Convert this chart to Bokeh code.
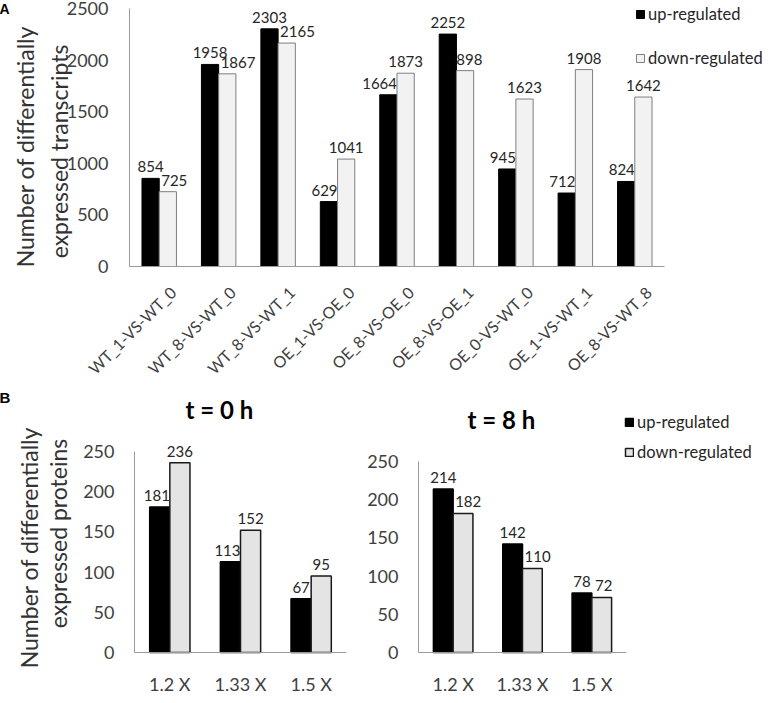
import math
from bokeh.plotting import figure
from bokeh.models import (ColumnDataSource, Range1d, Legend, LegendItem, Label,
                          FixedTicker)
from bokeh.transform import dodge
from bokeh.layouts import column, row
from bokeh.core.properties import value
from bokeh.embed import file_html
from bokeh.resources import INLINE

# ---------------- data ----------------
comparisons = ["WT_1-VS-WT_0", "WT_8-VS-WT_0", "WT_8-VS-WT_1", "OE_1-VS-OE_0",
               "OE_8-VS-OE_0", "OE_8-VS-OE_1", "OE_0-VS-WT_0", "OE_1-VS-WT_1",
               "OE_8-VS-WT_8"]
transcripts_up = [854, 1958, 2303, 629, 1664, 2252, 945, 712, 824]
transcripts_down = [725, 1867, 2165, 1041, 1873, 1898, 1623, 1908, 1642]

fold_changes = ["1.2 X", "1.33 X", "1.5 X"]
proteins_up_0h = [181, 113, 67]
proteins_down_0h = [236, 152, 95]
proteins_up_8h = [214, 142, 78]
proteins_down_8h = [182, 110, 72]

series_names = ["up-regulated", "down-regulated"]
transcript_ticks = [0, 500, 1000, 1500, 2000, 2500]
protein_ticks = [0, 50, 100, 150, 200, 250]

FONT = "Lato"
TXT = "#404040"
AXIS = "#9a9a9a"
DIGIT_EM = 0.58   # approximate width of a Lato digit, in em


def bar_panel(cats, up, down, ticks, width, height, ax_left, ax_right, ax_top, ax_bottom,
              bar_w, down_fill, down_line, bar_lw, label_px, tick_size,
              xlabel_size, tick_standoff, xlabel_standoff, close_px=30):
    """The frame fills the whole canvas; the drawn axes span ax_left..ax_right
    horizontally and ax_bottom (value 0) .. ax_top (last tick) vertically (px)."""
    n = len(cats)
    ymax = ticks[-1]
    px_per_unit = (ax_bottom - ax_top) / ymax
    cat_w = (ax_right - ax_left) / n
    x_start = -0.5 - ax_left / cat_w
    x_end = n - 0.5 + (width - ax_right) / cat_w
    y_start = -(height - ax_bottom) / px_per_unit
    y_end = ax_bottom / px_per_unit
    bar_half_px = bar_w * cat_w / 2

    # keep value labels clear of the neighbouring (taller) bar
    up_dx, down_dx = [], []
    for u, d in zip(up, down):
        hu = len(str(u)) * DIGIT_EM * label_px / 2
        hd = len(str(d)) * DIGIT_EM * label_px / 2
        if d > u:
            up_dx.append(-max(0.0, hu - bar_half_px)); down_dx.append(0)
        elif (u - d) * px_per_unit < close_px:
            up_dx.append(0); down_dx.append(max(0.0, hd - bar_half_px) + 2)
        else:
            up_dx.append(0); down_dx.append(0)
    src = ColumnDataSource(dict(xi=list(range(n)), up=up, down=down,
                                up_lbl=[str(v) for v in up],
                                down_lbl=[str(v) for v in down],
                                up_dx=up_dx, down_dx=down_dx))
    p = figure(x_range=Range1d(x_start, x_end), y_range=Range1d(y_start, y_end),
               width=width, height=height, output_backend="svg",
               toolbar_location=None, min_border_left=0, min_border_right=0,
               min_border_top=0, min_border_bottom=0)
    off = bar_w / 2
    xu = dodge("xi", -off)
    xd = dodge("xi", off)
    # value labels first so that bars are drawn on top of them
    for xx, yf, tf, dxf in ((xu, "up", "up_lbl", "up_dx"), (xd, "down", "down_lbl", "down_dx")):
        p.text(x=xx, y=yf, text=tf, source=src, x_offset=dxf, y_offset=-6,
               text_align="center", text_baseline="bottom",
               text_font=value(FONT), text_font_size=f"{label_px}px", text_color="#262626")
    r_up = p.vbar(x=xu, top="up", width=bar_w, source=src, fill_color="#000000",
                  line_color="#000000", line_width=bar_lw)
    r_down = p.vbar(x=xd, top="down", width=bar_w, source=src, fill_color=down_fill,
                    line_color=down_line, line_width=bar_lw)
    p.xgrid.grid_line_color = None
    p.ygrid.grid_line_color = None
    p.outline_line_color = None
    p.background_fill_color = None
    p.border_fill_color = None

    xa, ya = p.xaxis[0], p.yaxis[0]
    ya.ticker = FixedTicker(ticks=ticks)
    ya.bounds = (0, ymax)
    ya.fixed_location = -0.5
    xa.ticker = FixedTicker(ticks=list(range(n)))
    xa.major_label_overrides = {i: c for i, c in enumerate(cats)}
    xa.bounds = (-0.5, n - 0.5)
    xa.fixed_location = 0
    for ax in (xa, ya):
        ax.axis_line_color = AXIS
        ax.major_tick_line_color = None
        ax.minor_tick_line_color = None
        ax.major_tick_out = 0
        ax.major_tick_in = 0
        ax.major_label_text_font = FONT
        ax.major_label_text_color = TXT
    ya.major_label_text_font_size = tick_size
    ya.major_label_standoff = tick_standoff
    xa.major_label_text_font_size = xlabel_size
    xa.major_label_standoff = xlabel_standoff
    return p, r_up, r_down, src


def ylabel_line(text, x, y, size):
    return Label(x=x, y=y, x_units="screen", y_units="screen", text=text, angle=math.pi / 2,
                 text_font=FONT, text_font_size=size, text_color="#333333",
                 text_align="center", text_baseline="middle")


def make_legend(r_up, r_down, loc, spacing):
    return Legend(items=[LegendItem(label=series_names[0], renderers=[r_up]),
                         LegendItem(label=series_names[1], renderers=[r_down])],
                  location=loc, glyph_width=10, glyph_height=10, label_standoff=3,
                  spacing=spacing, padding=0, margin=0, border_line_color=None,
                  background_fill_alpha=0, label_text_font=FONT,
                  label_text_font_size="16.5px", label_text_color="#262626")


def letter(text, x, y, size):
    return Label(x=x, y=y, x_units="screen", y_units="screen", text=text,
                 text_font="Liberation Sans", text_font_style="bold", text_font_size=size,
                 text_align="left", text_baseline="top", text_color="#000000")


def title(text, x, y):
    return Label(x=x, y=y, x_units="screen", y_units="screen", text=text,
                 text_font=FONT, text_font_style="bold", text_font_size="24px",
                 text_align="center", text_baseline="middle", text_color="#000000")


# ---------------- panel A ----------------
pA, rAu, rAd, srcA = bar_panel(comparisons, transcripts_up, transcripts_down, transcript_ticks,
                               width=769, height=385, ax_left=133, ax_right=668, ax_top=12,
                               ax_bottom=270, bar_w=0.29, down_fill="#f2f2f2",
                               down_line="#7f7f7f", bar_lw=1, label_px=15, tick_size="18px",
                               xlabel_size="16px", tick_standoff=21, xlabel_standoff=16)
# rotated category labels drawn as text at each category position
pA.xaxis[0].ticker = FixedTicker(ticks=[])
srcA.data["cat"] = comparisons
srcA.data["zero"] = [0] * len(comparisons)
pA.text(x="xi", y="zero", text="cat", source=srcA, angle=math.pi / 4,
        text_align="right", text_baseline="top", x_offset=7, y_offset=16,
        text_font=value(FONT), text_font_size="16px", text_color=TXT)
pA.add_layout(ylabel_line("Number of differentially", 28, 235, "23px"))
pA.add_layout(ylabel_line("expressed transcripts", 62, 230, "23px"))
pA.add_layout(make_legend(rAu, rAd, (639, 313), 24))
pA.add_layout(letter("A", 3, 381, "14px"))

# ---------------- panel B, t = 0 h ----------------
pB1, rB1u, rB1d, _ = bar_panel(fold_changes, proteins_up_0h, proteins_down_0h, protein_ticks,
                               width=360, height=310, ax_left=138, ax_right=350, ax_top=70,
                               ax_bottom=271, bar_w=0.285, down_fill="#e4e4e4",
                               down_line="#1a1a1a", bar_lw=1.5, label_px=15,
                               tick_size="18px", xlabel_size="18px", tick_standoff=20,
                               xlabel_standoff=20)
pB1.add_layout(ylabel_line("Number of differentially", 32, 144, "23px"))
pB1.add_layout(ylabel_line("expressed proteins", 61, 158, "23px"))
pB1.add_layout(title("t = 0 h", 223, 282))
pB1.add_layout(letter("B", 3, 303, "15px"))

# ---------------- panel B, t = 8 h ----------------
pB2, rB2u, rB2d, _ = bar_panel(fold_changes, proteins_up_8h, proteins_down_8h, protein_ticks,
                               width=409, height=310, ax_left=62, ax_right=270, ax_top=80,
                               ax_bottom=271, bar_w=0.285, down_fill="#e4e4e4",
                               down_line="#1a1a1a", bar_lw=1.5, label_px=15,
                               tick_size="18px", xlabel_size="18px", tick_standoff=20,
                               xlabel_standoff=20)
pB2.add_layout(title("t = 8 h", 145, 272))
pB2.add_layout(make_legend(rB2u, rB2d, (268, 229), 10))

layout = column(pA, row(pB1, pB2, spacing=0), spacing=0, margin=(-4, 0, 0, -4))

with open("out.html", "w") as f:
    f.write(file_html(layout, INLINE))
